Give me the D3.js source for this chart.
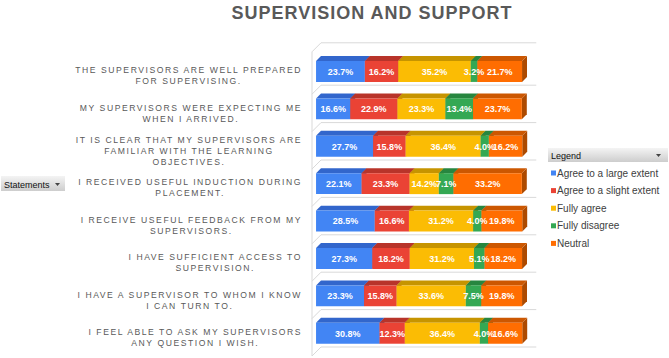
<!DOCTYPE html>
<html lang="en">
<head>
<meta charset="utf-8">
<title>Supervision and support</title>
<script src="https://cdn.jsdelivr.net/npm/d3@7"></script>
<style>
  body { margin: 0; background: #fff; }
  svg { display: block; font-family: "Liberation Sans", Arial, sans-serif; }
</style>
</head>
<body>
<script>
// statements, one array of wrapped lines each (top to bottom)
var categories = [
    ["THE SUPERVISORS ARE WELL PREPARED", "FOR SUPERVISING."],
    ["MY SUPERVISORS WERE EXPECTING ME", "WHEN I ARRIVED."],
    ["IT IS CLEAR THAT MY SUPERVISORS ARE", "FAMILIAR WITH THE LEARNING", "OBJECTIVES."],
    ["I RECEIVED USEFUL INDUCTION DURING", "PLACEMENT."],
    ["I RECEIVE USEFUL FEEDBACK FROM MY", "SUPERVISORS."],
    ["I HAVE SUFFICIENT ACCESS TO", "SUPERVISION."],
    ["I HAVE A SUPERVISOR TO WHOM I KNOW", "I CAN TURN TO."],
    ["I FEEL ABLE TO ASK MY SUPERVISORS", "ANY QUESTION I WISH."]
];

var seriesNames = ["Agree to a large extent", "Agree to a slight extent", "Fully agree", "Fully disagree", "Neutral"];

// percentages per statement
var largeExtent   = [23.7, 16.6, 27.7, 22.1, 28.5, 27.3, 23.3, 30.8];
var slightExtent  = [16.2, 22.9, 15.8, 23.3, 16.6, 18.2, 15.8, 12.3];
var fullyAgree    = [35.2, 23.3, 36.4, 14.2, 31.2, 31.2, 33.6, 36.4];
var fullyDisagree = [3.2, 13.4, 4.0, 7.1, 4.0, 5.1, 7.5, 4.0];
var neutral       = [21.7, 23.7, 16.2, 33.2, 19.8, 18.2, 19.8, 16.6];

var frontColors = ["#4285f4", "#ea4335", "#fbbc04", "#34a853", "#ff6d01"];
var topColors   = ["#3266cc", "#b8342a", "#c69400", "#27863f", "#cc5701"];
var sideColors  = ["#2a57ad", "#9c2c23", "#a87e00", "#207036", "#ad4a00"];

var W = 669, H = 358;
var D = 9;            // depth of the 3d box
var zFront = 0.45;    // bars sit in the back part of the box

var table = categories.map(function (c, i) {
    var row = { i: i };
    row[seriesNames[0]] = largeExtent[i];
    row[seriesNames[1]] = slightExtent[i];
    row[seriesNames[2]] = fullyAgree[i];
    row[seriesNames[3]] = fullyDisagree[i];
    row[seriesNames[4]] = neutral[i];
    return row;
});
var stacked = d3.stack().keys(seriesNames)(table);

var x = d3.scaleLinear().domain([0, 100]).range([312, 518]);
var y = d3.scaleBand()
        .domain(d3.range(categories.length))
        .range([56.8, 356])
        .paddingInner(0.44)
        .paddingOuter(0.22);

function P(v, yp, z) {
    return [x(v) + D * z, yp - D * z];
}
function poly(pts) {
    return "M" + pts.map(function (p) { return p[0] + "," + p[1]; }).join("L") + "Z";
}

var svg = d3.select("body").append("svg")
        .attr("width", W)
        .attr("height", H);

var defs = svg.append("defs");
var g1 = defs.append("linearGradient").attr("id", "btn").attr("x1", 0).attr("y1", 0).attr("x2", 0).attr("y2", 1);
g1.append("stop").attr("offset", "0%").attr("stop-color", "#f4f4f4");
g1.append("stop").attr("offset", "100%").attr("stop-color", "#cdcdcd");

//Title
svg.append("text")
    .attr("x", 372)
    .attr("y", 19)
    .attr("text-anchor", "middle")
    .attr("font-size", "18px")
    .attr("font-weight", "bold")
    .attr("letter-spacing", "1px")
    .attr("fill", "#595959")
    .text("SUPERVISION AND SUPPORT");

//Walls
var wallMax = 104.5;
var walls = svg.append("g")
        .attr("stroke", "#d9d9d9")
        .attr("stroke-width", 1)
        .attr("fill", "none");
var yTop = y.range()[0] - 5;
var yBot = y.range()[1];
walls.append("path").attr("d", "M" + P(0, yTop, 0) + "L" + P(0, yBot, 0));
var bounds = [yTop].concat(d3.range(1, categories.length + 1).map(function (k) {
    return y.range()[0] + k * y.step();
}));
bounds.forEach(function (b) {
    walls.append("path").attr("d", "M" + P(0, b, 0) + "L" + P(0, b, 1) + "L" + P(wallMax, b, 1));
});

//Bars
var bars = svg.append("g");
table.forEach(function (row, i) {
    var t = y(i), b = y(i) + y.bandwidth();
    stacked.forEach(function (s, k) {
        var d = s[i], v0 = d[0], v1 = d[1];
        bars.append("path")
            .attr("d", poly([P(v1, t, zFront), P(v1, t, 1), P(v1, b, 1), P(v1, b, zFront)]))
            .attr("fill", sideColors[k]);
        bars.append("path")
            .attr("d", poly([P(v0, t, zFront), P(v1, t, zFront), P(v1, t, 1), P(v0, t, 1)]))
            .attr("fill", topColors[k]);
        bars.append("path")
            .attr("d", poly([P(v0, t, zFront), P(v1, t, zFront), P(v1, b, zFront), P(v0, b, zFront)]))
            .attr("fill", frontColors[k]);
    });
    stacked.forEach(function (s, k) {
        var d = s[i];
        var c = P((d[0] + d[1]) / 2, (t + b) / 2, zFront);
        bars.append("text")
            .attr("x", c[0])
            .attr("y", c[1] + 3.3)
            .attr("text-anchor", "middle")
            .attr("font-size", "9px")
            .attr("font-weight", "bold")
            .attr("fill", "#fff")
            .text(d3.format(".1f")(d[1] - d[0]) + "%");
    });
});

//Category labels
var labelRight = 302;
var lineH = 11;
categories.forEach(function (lines, i) {
    var g = svg.append("g");
    var cy = y(i) + y.bandwidth() / 2;
    var texts = lines.map(function (l, j) {
        return g.append("text")
            .attr("y", cy + (j - (lines.length - 1) / 2) * lineH + 3.2)
            .attr("text-anchor", "middle")
            .attr("font-size", "8.6px")
            .attr("letter-spacing", "1.55px")
            .attr("fill", "#595959")
            .text(l);
    });
    var maxW = d3.max(texts, function (t) { return t.node().getComputedTextLength(); });
    texts.forEach(function (t) { t.attr("x", labelRight - maxW / 2); });
});

//Statements button
svg.append("rect")
    .attr("x", 1).attr("y", 176).attr("width", 64).attr("height", 15)
    .attr("fill", "url(#btn)");
svg.append("text")
    .attr("x", 4).attr("y", 187.5)
    .attr("font-size", "9px")
    .attr("fill", "#111")
    .text("Statements");
svg.append("path").attr("d", "M55,183L60,183L57.5,186Z").attr("fill", "#444");

//Legend
var lg = svg.append("g");
lg.append("rect")
    .attr("x", 548).attr("y", 148).attr("width", 120).attr("height", 14)
    .attr("fill", "url(#btn)");
lg.append("text")
    .attr("x", 551).attr("y", 158.5)
    .attr("font-size", "9px")
    .attr("fill", "#111")
    .text("Legend");
lg.append("path").attr("d", "M656,154L661,154L658.5,157Z").attr("fill", "#444");

var item = lg.selectAll("g.item")
        .data(seriesNames)
        .enter()
        .append("g")
        .attr("class", "item")
        .attr("transform", function (d, k) {
            return "translate(0," + (173 + k * 17.6) + ")";
        });
item.append("rect")
    .attr("x", 551).attr("y", -2.5).attr("width", 5).attr("height", 5)
    .attr("fill", function (d, k) { return frontColors[k]; });
item.append("text")
    .attr("x", 557).attr("y", 3.5)
    .attr("font-size", "10px")
    .attr("fill", "#404040")
    .text(function (d) { return d; });
</script>
</body>
</html>
